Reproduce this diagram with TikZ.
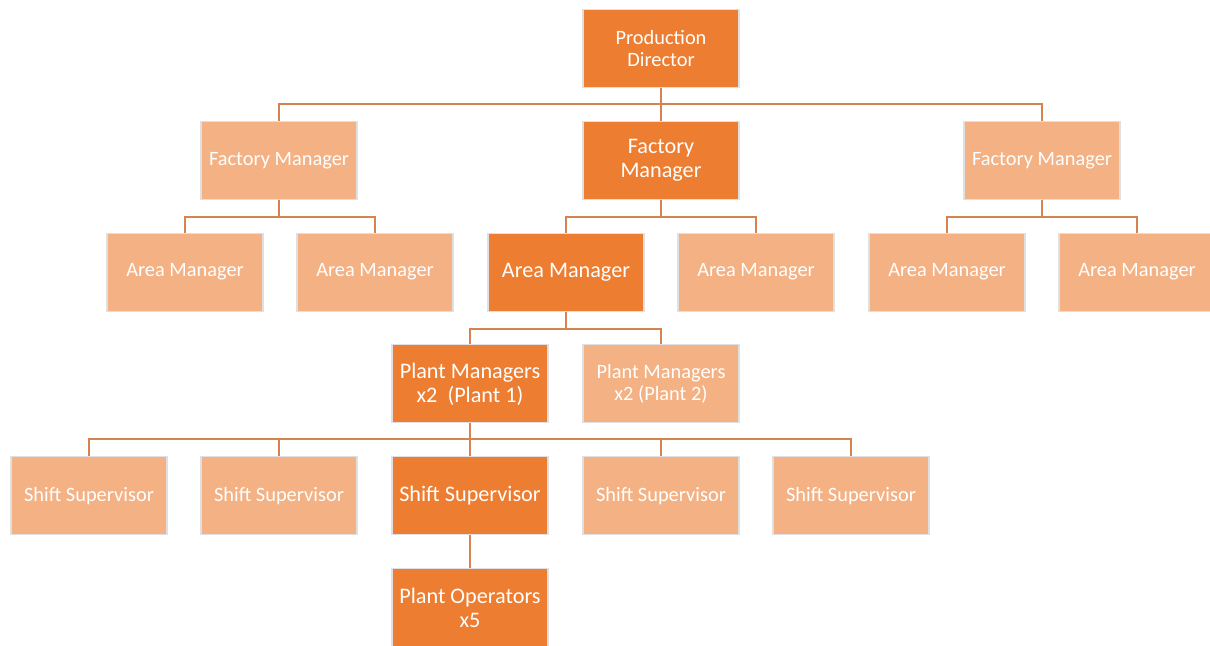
\documentclass[tikz,border=0pt]{standalone}
\usepackage{fontspec}
\setmainfont{Carlito}
\usepackage{xcolor}
\usepackage{tikz}
\usetikzlibrary{positioning}

\definecolor{boxdark}{HTML}{ED7D31}
\definecolor{boxlight}{HTML}{F4B183}
\definecolor{linkline}{HTML}{D5834F}

\begin{document}
\begin{tikzpicture}[
    box/.style={draw=black!12, line width=0.8pt, minimum width=3.9cm, minimum height=1.95cm,
      inner sep=2pt, align=center, text=white},
    dark/.style={box, fill=boxdark, font=\fontsize{15.8}{17}\selectfont},
    top/.style={box, fill=boxdark, font=\fontsize{14.5}{15.6}\selectfont},
    light/.style={box, fill=boxlight, font=\fontsize{14.5}{15.6}\selectfont},
    conn/.style={draw=linkline, line width=1.4pt}
  ]
  \useasboundingbox (0,0) rectangle (30.25,16.15);
  \clip (0,0) rectangle (30.25,16.15);

  % Director
  \node[top] (pd) at (16.525,14.9375) {Production\\Director};

  % Factory managers
  \node[light] (fm1) at (6.975,12.1425) {Factory Manager};
  \node[dark]  (fm2) at (16.525,12.1425) {Factory\\Manager};
  \node[light] (fm3) at (26.05,12.1425) {Factory Manager};

  % Area managers
  \node[light] (am1) at (4.625,9.3475) {Area Manager};
  \node[light] (am2) at (9.375,9.3475) {Area Manager};
  \node[dark]  (am3) at (14.15,9.3475) {Area Manager};
  \node[light] (am4) at (18.9,9.3475) {Area Manager};
  \node[light] (am5) at (23.675,9.3475) {Area Manager};
  \node[light] (am6) at (28.425,9.3475) {Area Manager};

  % Plant managers
  \node[dark]  (pm1) at (11.75,6.5525) {Plant Managers\\x2~~(Plant 1)};
  \node[light] (pm2) at (16.525,6.5525) {Plant Managers\\x2 (Plant 2)};

  % Shift supervisors
  \node[light] (ss1) at (2.225,3.7575) {Shift Supervisor};
  \node[light] (ss2) at (6.975,3.7575) {Shift Supervisor};
  \node[dark]  (ss3) at (11.75,3.7575) {Shift Supervisor};
  \node[light] (ss4) at (16.525,3.7575) {Shift Supervisor};
  \node[light] (ss5) at (21.275,3.7575) {Shift Supervisor};

  % Operators
  \node[dark] (po) at (11.75,0.9625) {Plant Operators\\x5};

  % Links
  \draw[conn] (pd.south) -- (fm2.north);
  \draw[conn] (fm1.north) |- ++(0,0.425) -| (fm3.north);
  \draw[conn] (fm1.south) -- ++(0,-0.425) coordinate (b1) -| (am1.north) (b1) -| (am2.north);
  \draw[conn] (fm2.south) -- ++(0,-0.425) coordinate (b2) -| (am3.north) (b2) -| (am4.north);
  \draw[conn] (fm3.south) -- ++(0,-0.425) coordinate (b3) -| (am5.north) (b3) -| (am6.north);
  \draw[conn] (am3.south) -- ++(0,-0.425) coordinate (b4) -| (pm1.north) (b4) -| (pm2.north);
  \draw[conn] (pm1.south) -- (ss3.north);
  \draw[conn] (ss1.north) |- ++(0,0.425) -| (ss5.north);
  \draw[conn] (ss2.north) -- ++(0,0.425);
  \draw[conn] (ss4.north) -- ++(0,0.425);
  \draw[conn] (ss3.south) -- (po.north);
\end{tikzpicture}
\end{document}
